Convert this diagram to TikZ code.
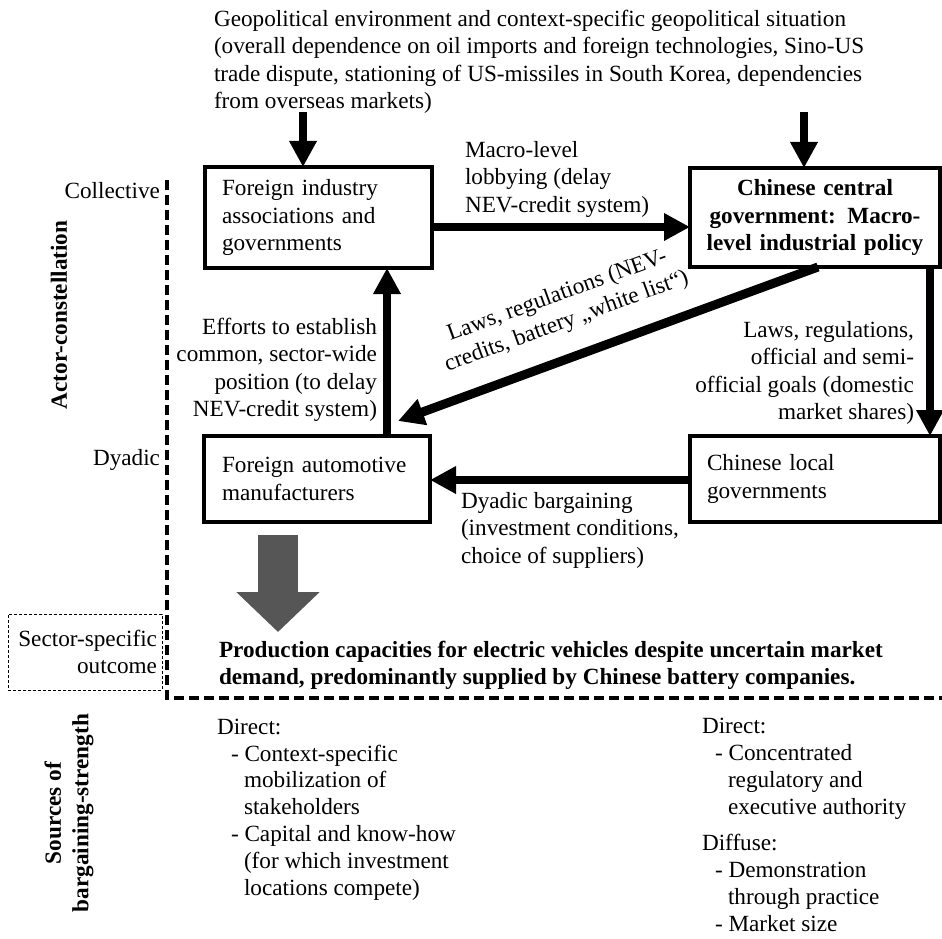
\documentclass[tikz,border=0pt]{standalone}
\usepackage{fontspec}
\setmainfont{Liberation Serif}
\usetikzlibrary{arrows.meta,calc}
\definecolor{blockgray}{HTML}{565656}
\begin{document}
\begin{tikzpicture}[x=1pt,y=-1pt,
  every node/.style={font=\fontsize{23.2}{27.5}\selectfont, inner sep=0pt, outer sep=0pt},
  boldtext/.style={font=\fontsize{23.2}{27.5}\selectfont\bfseries},
  coltext/.style={font=\fontsize{23.2}{26.8}\selectfont, align=left, anchor=west},
  actorbox/.style={draw, line width=4pt},
  arr/.style={line width=8pt, -{Triangle[length=26pt,width=26pt]}},
  dashL/.style={line width=4pt, dash pattern=on 10pt off 5pt},
  thindash/.style={draw, line width=1pt, dash pattern=on 3pt off 2pt},
  bigarrow/.style={blockgray, line width=40pt, -{Triangle[length=40pt,width=81pt]}}
]
\useasboundingbox (0,0) rectangle (942,939);

% top text
\node[anchor=west, align=left] (geo) at (214,62) {Geopolitical environment and context-specific geopolitical situation\\(overall dependence on oil imports and foreign technologies, Sino-US\\trade dispute, stationing of US-missiles in South Korea, dependencies\\from overseas markets)};

% boxes
\node[actorbox, minimum width=227pt, minimum height=101pt, text width=193pt, align=left] (fia) at (318.5,217.5) {Foreign industry\\associations and\\governments};
\node[actorbox, boldtext, minimum width=250pt, minimum height=99pt, text width=240pt, align=center] (ccg) at (815,217.5) {Chinese central\\government: Macro-\\level industrial policy};
\node[actorbox, minimum width=226pt, minimum height=86pt, text width=190pt, align=left] (fam) at (317,479) {\mbox{Foreign automotive}\\manufacturers};
\node[actorbox, minimum width=250pt, minimum height=86pt, text width=216pt, align=left] (clg) at (815,479) {Chinese local\\governments};

% helper coordinates
\coordinate (g1) at (303,112);
\coordinate (g2) at (804,112);
\coordinate (m1) at (0,227);
\coordinate (v1) at (387,0);
\coordinate (v2) at (930,0);
\coordinate (h1) at (0,480);
\coordinate (d1) at (818,0);
\coordinate (dtip) at (398,421);
\coordinate (ga) at (278,535);
\coordinate (gb) at (278,632);
\coordinate (dtop) at (167,180);
\coordinate (dcorner) at (167,698);
\coordinate (dright) at (942,698);

% arrows
\draw[arr] (g1) -- (fia.north -| g1);
\draw[arr] (g2) -- (ccg.north -| g2);
\draw[arr] (fia.east |- m1) -- (ccg.west |- m1);
\draw[arr] (fam.north -| v1) -- (fia.south -| v1);
\draw[arr, line width=9pt] (ccg.south -| d1) -- (dtip);
\draw[arr] (ccg.south -| v2) -- (clg.north -| v2);
\draw[arr] (clg.west |- h1) -- (fam.east |- h1);
\draw[bigarrow] (ga) -- (gb);

% connector labels
\node[anchor=west, align=left] (lobby) at (465,179) {Macro-level\\lobbying (delay\\NEV-credit system)};
\node[anchor=east, align=right] (eff) at (377,370) {Efforts to establish\\common, sector-wide\\position (to delay\\NEV-credit system)};
\node[rotate=20, align=center] (laws1) at (562,309) {Laws, regulations (NEV-\\credits, battery „white list“)};
\node[anchor=east, align=right] (laws2) at (914,373) {Laws, regulations,\\official and semi-\\official goals (domestic\\market shares)};
\node[anchor=west, align=left] (dyad) at (461,530) {Dyadic bargaining\\(investment conditions,\\choice of suppliers)};

% outcome
\node[anchor=west, align=left, boldtext] (outc) at (219,665.5) {Production capacities for electric vehicles despite uncertain market\\demand, predominantly supplied by Chinese battery companies.};

% dashed frame
\draw[dashL] (dtop) -- (dcorner) -- (dright);

% side labels
\node[anchor=east] (coll) at (160,191) {Collective};
\node[anchor=east] (dyadic) at (160,460) {Dyadic};
\node[thindash, minimum width=154pt, minimum height=76pt, text width=144pt, align=right] (sso) at (85,652) {Sector-specific\\outcome};
\node[rotate=90, boldtext] (actc) at (59,315) {Actor-constellation};
\node[rotate=90, align=center, boldtext] (srcb) at (69,813) {Sources of\\bargaining-strength};

% bottom columns
\node[coltext] (leftcol) at (217,809.5) {Direct:\\
\hspace*{14pt}- Context-specific\\
\hspace*{27pt}mobilization of\\
\hspace*{27pt}stakeholders\\
\hspace*{14pt}- Capital and know-how\\
\hspace*{27pt}(for which investment\\
\hspace*{27pt}locations compete)};
\node[coltext] (rightcol) at (702,825) {Direct:\\
\hspace*{13pt}- Concentrated\\
\hspace*{26pt}regulatory and\\
\hspace*{26pt}executive authority\\[10pt]
Diffuse:\\
\hspace*{13pt}- Demonstration\\
\hspace*{26pt}through practice\\
\hspace*{13pt}- Market size};
\end{tikzpicture}
\end{document}
